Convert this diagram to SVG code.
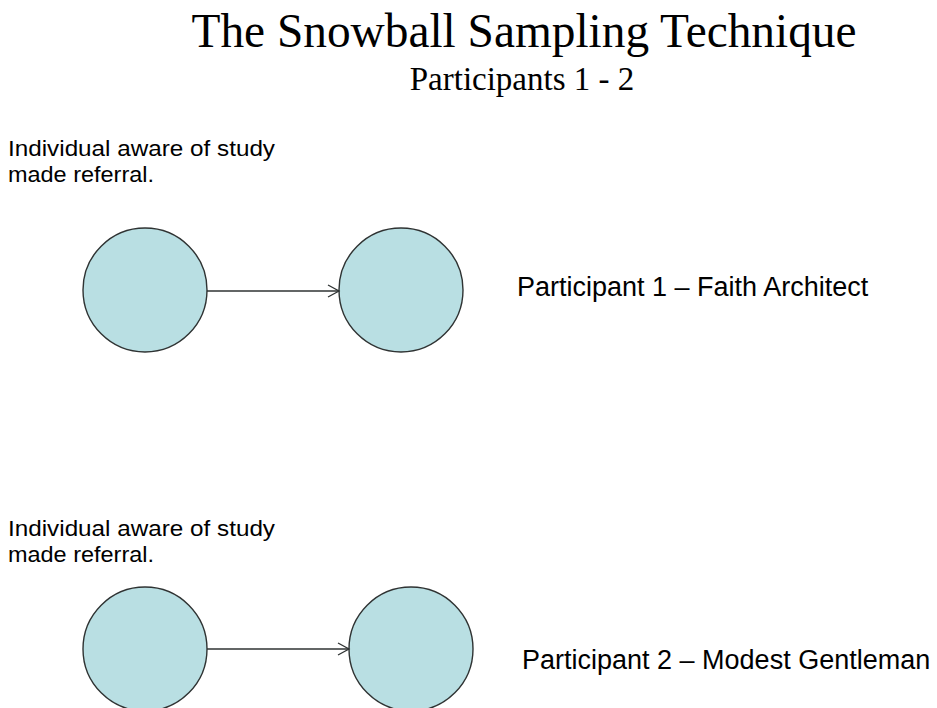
<svg xmlns="http://www.w3.org/2000/svg" width="937" height="708" viewBox="0 0 937 708">
<style>
.node{fill:#b9dfe3;stroke:#2f3333;stroke-width:1.4}
.edge{stroke:#2f3333;stroke-width:1.3;fill:none}
.title{font-family:"Liberation Serif","Times New Roman",serif;fill:#000;text-anchor:middle}
.lbl{font-family:"Liberation Sans",Arial,sans-serif;fill:#000}
</style>
<defs>
<marker id="arr" markerWidth="14" markerHeight="14" refX="12" refY="7" orient="auto" markerUnits="userSpaceOnUse">
<path d="M1,1 L12,7 L1,13" fill="none" stroke="#2f3333" stroke-width="1.3"/>
</marker>
</defs>
<rect width="937" height="708" fill="#fff"/>
<text class="title" x="524" y="47" font-size="48" textLength="665" lengthAdjust="spacingAndGlyphs">The Snowball  Sampling  Technique</text>
<text class="title" x="522" y="90" font-size="33">Participants 1 - 2</text>
<g id="note1">
<text class="lbl" x="8" y="156" font-size="22" textLength="267" lengthAdjust="spacingAndGlyphs">Individual aware of study</text>
<text class="lbl" x="8" y="182" font-size="22" textLength="146" lengthAdjust="spacingAndGlyphs">made referral.</text>
</g>
<g id="note2">
<text class="lbl" x="8" y="536" font-size="22" textLength="267" lengthAdjust="spacingAndGlyphs">Individual aware of study</text>
<text class="lbl" x="8" y="562" font-size="22" textLength="146" lengthAdjust="spacingAndGlyphs">made referral.</text>
</g>
<g id="referrer1"><circle class="node" cx="145" cy="290" r="62"/></g>
<g id="participant1"><circle class="node" cx="401" cy="290" r="62"/>
<text class="lbl" x="517" y="296" font-size="27">Participant 1 – Faith Architect</text></g>
<g id="referrer2"><circle class="node" cx="145" cy="649" r="62"/></g>
<g id="participant2"><circle class="node" cx="411" cy="649" r="62"/>
<text class="lbl" x="522" y="669" font-size="27">Participant 2 – Modest Gentleman</text></g>
<g id="connectors">
<line class="edge" x1="207" y1="291" x2="339" y2="291" marker-end="url(#arr)"/>
<line class="edge" x1="207" y1="649" x2="349" y2="649" marker-end="url(#arr)"/>
</g>
</svg>
